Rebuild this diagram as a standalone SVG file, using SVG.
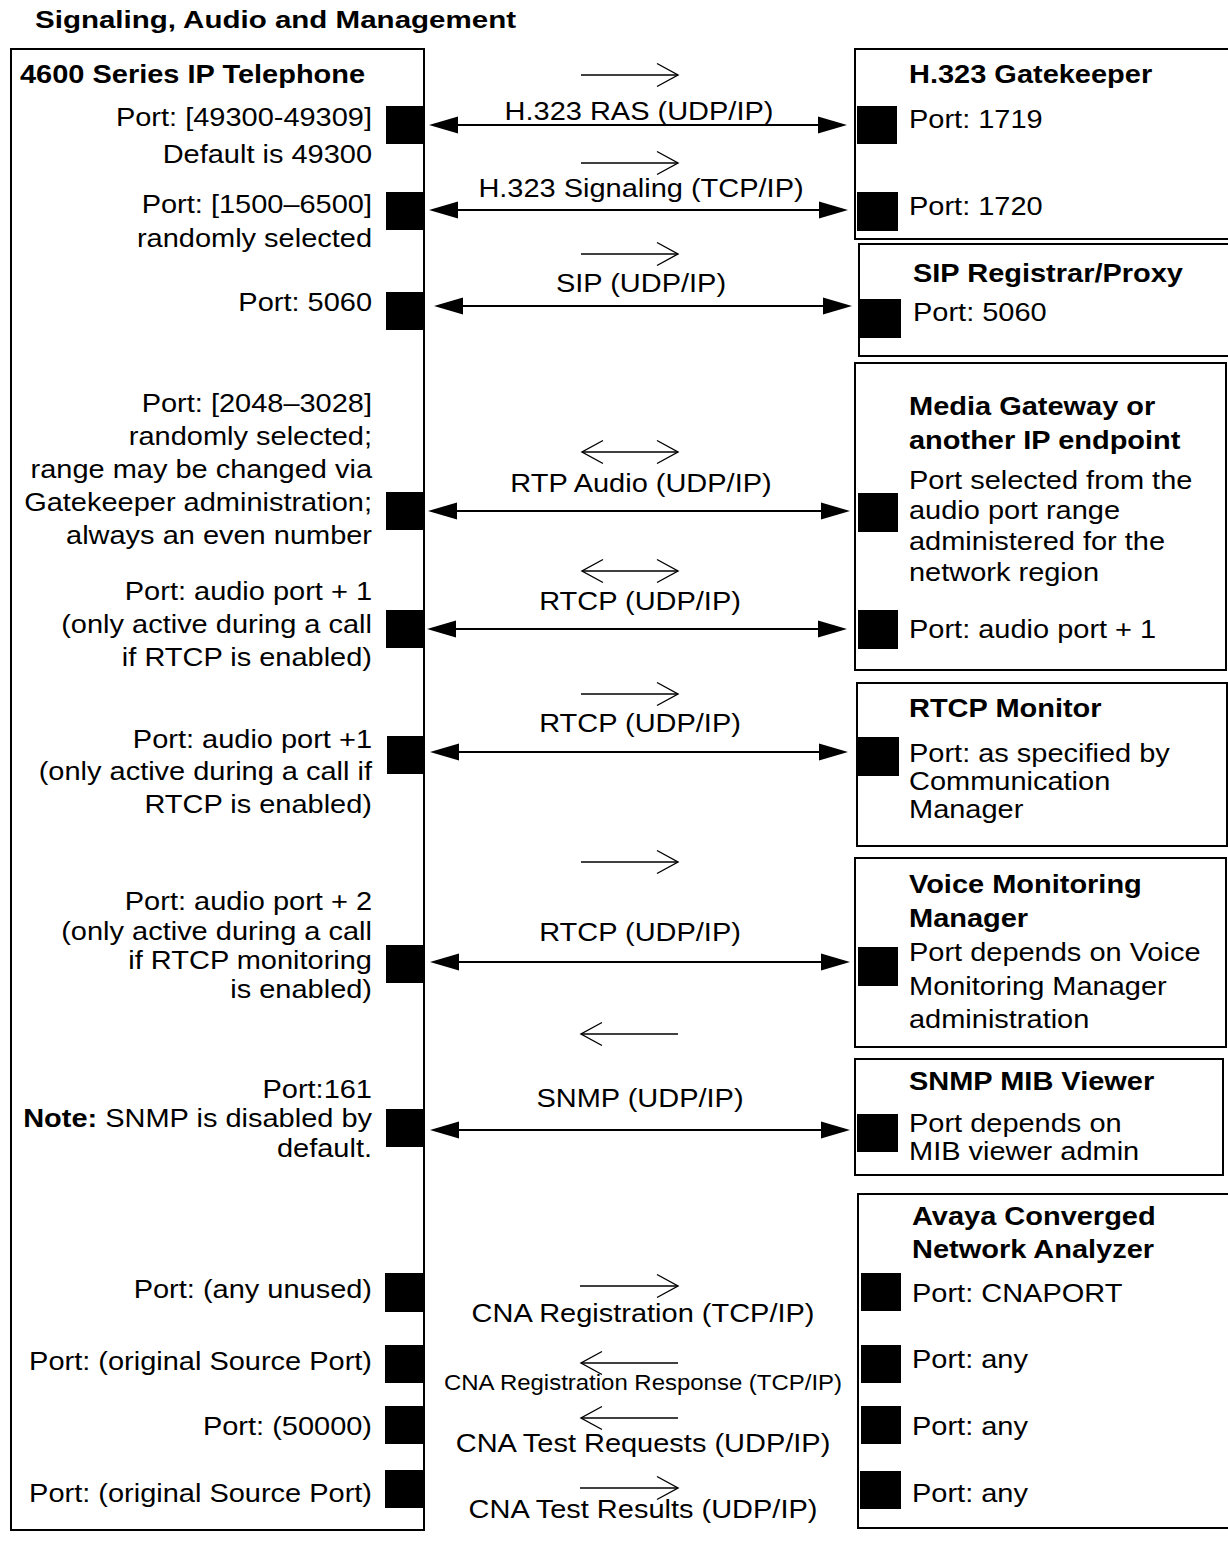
<svg xmlns="http://www.w3.org/2000/svg" width="1228" height="1547" viewBox="0 0 1228 1547">
<defs>
<marker id="solid" markerUnits="userSpaceOnUse" markerWidth="30" markerHeight="18" refX="0" refY="0" orient="auto-start-reverse" overflow="visible">
<path d="M0,-8.5 L29,0 L0,8.5 z" fill="#000"/>
</marker>
<marker id="open" markerUnits="userSpaceOnUse" markerWidth="24" markerHeight="24" refX="0" refY="0" orient="auto-start-reverse" overflow="visible">
<path d="M-21,-11.5 L0,0 L-21,11.5" fill="none" stroke="#000" stroke-width="1.4"/>
</marker>
</defs>
<style>
text{font-family:"Liberation Sans",Arial,Helvetica,sans-serif;font-size:26px;fill:#000}
.b{font-weight:bold;font-size:26px}
.l{text-anchor:end}
.c{text-anchor:middle}
.box{fill:none;stroke:#000;stroke-width:2}
.sq{fill:#000}
.main{stroke:#000;stroke-width:2;fill:none;marker-start:url(#solid);marker-end:url(#solid)}
.dir{stroke:#000;stroke-width:1.4;fill:none}
</style>
<rect width="1228" height="1547" fill="#fff"/>
<text class="b" x="35" y="28" style="font-size:24px" textLength="481" lengthAdjust="spacingAndGlyphs">Signaling, Audio and Management</text>

<g id="phone">
<rect class="box" x="11" y="49" width="413" height="1481"/>
<rect class="sq" x="386" y="106" width="38" height="38"/>
<rect class="sq" x="386" y="192" width="38" height="38"/>
<rect class="sq" x="386" y="292" width="38" height="38"/>
<rect class="sq" x="386" y="492" width="38" height="38"/>
<rect class="sq" x="386" y="610" width="38" height="38"/>
<rect class="sq" x="387" y="736" width="38" height="38"/>
<rect class="sq" x="386" y="945" width="38" height="38"/>
<rect class="sq" x="386" y="1109" width="38" height="38"/>
<rect class="sq" x="385" y="1273" width="39" height="39"/>
<rect class="sq" x="385" y="1345" width="39" height="38"/>
<rect class="sq" x="385" y="1406" width="39" height="38"/>
<rect class="sq" x="385" y="1470" width="39" height="38"/>
<g transform="translate(20 0) scale(1.115 1)">
<text class="b" x="0" y="83">4600 Series IP Telephone</text>
</g>
<g transform="translate(372 0) scale(1.115 1)">
<text class="l" x="0" y="126">Port: [49300-49309]</text>
<text class="l" x="0" y="163">Default is 49300</text>
<text class="l" x="0" y="213">Port: [1500–6500]</text>
<text class="l" x="0" y="247">randomly selected</text>
<text class="l" x="0" y="311">Port: 5060</text>
<text class="l" x="0" y="412">Port: [2048–3028]</text>
<text class="l" x="0" y="445">randomly selected;</text>
<text class="l" x="0" y="478">range may be changed via</text>
<text class="l" x="0" y="511">Gatekeeper administration;</text>
<text class="l" x="0" y="544">always an even number</text>
<text class="l" x="0" y="600">Port: audio port + 1</text>
<text class="l" x="0" y="633">(only active during a call</text>
<text class="l" x="0" y="666">if RTCP is enabled)</text>
<text class="l" x="0" y="748">Port: audio port +1</text>
<text class="l" x="0" y="780">(only active during a call if</text>
<text class="l" x="0" y="813">RTCP is enabled)</text>
<text class="l" x="0" y="910">Port: audio port + 2</text>
<text class="l" x="0" y="940">(only active during a call</text>
<text class="l" x="0" y="969">if RTCP monitoring</text>
<text class="l" x="0" y="998">is enabled)</text>
<text class="l" x="0" y="1098">Port:161</text>
<text class="l" x="0" y="1127"><tspan font-weight="bold">Note:</tspan> SNMP is disabled by</text>
<text class="l" x="0" y="1157">default.</text>
<text class="l" x="0" y="1298">Port: (any unused)</text>
<text class="l" x="0" y="1370">Port: (original Source Port)</text>
<text class="l" x="0" y="1435">Port: (50000)</text>
<text class="l" x="0" y="1502">Port: (original Source Port)</text>
</g>
</g>

<g id="gatekeeper">
<rect class="box" x="855" y="49" width="400" height="190"/>
<rect class="sq" x="857" y="106" width="40" height="38"/>
<rect class="sq" x="857" y="192" width="41" height="39"/>
<g transform="translate(909 0) scale(1.115 1)">
<text class="b" x="0" y="83">H.323 Gatekeeper</text>
<text x="0" y="128">Port: 1719</text>
<text x="0" y="215">Port: 1720</text>
</g>
</g>

<g id="sip">
<rect class="box" x="859" y="244" width="400" height="112"/>
<rect class="sq" x="859" y="299" width="42" height="39"/>
<g transform="translate(913 0) scale(1.115 1)">
<text class="b" x="0" y="282">SIP Registrar/Proxy</text>
<text x="0" y="321">Port: 5060</text>
</g>
</g>

<g id="media">
<rect class="box" x="855" y="363" width="371" height="307"/>
<rect class="sq" x="858" y="493" width="40" height="39"/>
<rect class="sq" x="858" y="610" width="40" height="39"/>
<g transform="translate(909 0) scale(1.115 1)">
<text class="b" x="0" y="415">Media Gateway or</text>
<text class="b" x="0" y="449">another IP endpoint</text>
<text x="0" y="489">Port selected from the</text>
<text x="0" y="519">audio port range</text>
<text x="0" y="550">administered for the</text>
<text x="0" y="581">network region</text>
<text x="0" y="638">Port: audio port + 1</text>
</g>
</g>

<g id="rtcpmon">
<rect class="box" x="857" y="683" width="370" height="163"/>
<rect class="sq" x="858" y="737" width="41" height="39"/>
<g transform="translate(909 0) scale(1.115 1)">
<text class="b" x="0" y="717">RTCP Monitor</text>
<text x="0" y="762">Port: as specified by</text>
<text x="0" y="790">Communication</text>
<text x="0" y="818">Manager</text>
</g>
</g>

<g id="vmm">
<rect class="box" x="855" y="858" width="371" height="189"/>
<rect class="sq" x="858" y="947" width="40" height="39"/>
<g transform="translate(909 0) scale(1.115 1)">
<text class="b" x="0" y="893">Voice Monitoring</text>
<text class="b" x="0" y="927">Manager</text>
<text x="0" y="961">Port depends on Voice</text>
<text x="0" y="995">Monitoring Manager</text>
<text x="0" y="1028">administration</text>
</g>
</g>

<g id="snmp">
<rect class="box" x="855" y="1059" width="368" height="116"/>
<rect class="sq" x="857" y="1114" width="41" height="38"/>
<g transform="translate(909 0) scale(1.115 1)">
<text class="b" x="0" y="1090">SNMP MIB Viewer</text>
<text x="0" y="1132">Port depends on</text>
<text x="0" y="1160">MIB viewer admin</text>
</g>
</g>

<g id="cna">
<rect class="box" x="858" y="1194" width="400" height="334"/>
<rect class="sq" x="861" y="1273" width="40" height="38"/>
<rect class="sq" x="861" y="1345" width="40" height="38"/>
<rect class="sq" x="861" y="1406" width="40" height="38"/>
<rect class="sq" x="860" y="1471" width="41" height="38"/>
<g transform="translate(912 0) scale(1.115 1)">
<text class="b" x="0" y="1225">Avaya Converged</text>
<text class="b" x="0" y="1258">Network Analyzer</text>
<text x="0" y="1302">Port: CNAPORT</text>
<text x="0" y="1368">Port: any</text>
<text x="0" y="1435">Port: any</text>
<text x="0" y="1502">Port: any</text>
</g>
</g>

<g id="connectors">
<line class="main" x1="458" y1="125" x2="818" y2="125"/>
<line class="main" x1="458" y1="210" x2="819" y2="210"/>
<line class="main" x1="463" y1="306" x2="823" y2="306"/>
<line class="main" x1="457" y1="511" x2="821" y2="511"/>
<line class="main" x1="456" y1="629" x2="818" y2="629"/>
<line class="main" x1="459" y1="752" x2="819" y2="752"/>
<line class="main" x1="459" y1="962" x2="821" y2="962"/>
<line class="main" x1="459" y1="1130" x2="821" y2="1130"/>

<line class="dir" x1="581" y1="75" x2="678" y2="75" marker-end="url(#open)"/>
<line class="dir" x1="581" y1="163" x2="678" y2="163" marker-end="url(#open)"/>
<line class="dir" x1="581" y1="254" x2="678" y2="254" marker-end="url(#open)"/>
<line class="dir" x1="582" y1="452" x2="678" y2="452" marker-start="url(#open)" marker-end="url(#open)"/>
<line class="dir" x1="582" y1="571" x2="678" y2="571" marker-start="url(#open)" marker-end="url(#open)"/>
<line class="dir" x1="581" y1="694" x2="678" y2="694" marker-end="url(#open)"/>
<line class="dir" x1="581" y1="862" x2="678" y2="862" marker-end="url(#open)"/>
<line class="dir" x1="678" y1="1034" x2="581" y2="1034" marker-end="url(#open)"/>
<line class="dir" x1="580" y1="1286" x2="678" y2="1286" marker-end="url(#open)"/>
<line class="dir" x1="678" y1="1363" x2="581" y2="1363" marker-end="url(#open)"/>
<line class="dir" x1="678" y1="1418" x2="581" y2="1418" marker-end="url(#open)"/>
<line class="dir" x1="580" y1="1488" x2="678" y2="1488" marker-end="url(#open)"/>

<text class="c" transform="translate(639 0) scale(1.115 1)" x="0" y="120">H.323 RAS (UDP/IP)</text>
<text class="c" transform="translate(641 0) scale(1.115 1)" x="0" y="197">H.323 Signaling (TCP/IP)</text>
<text class="c" transform="translate(641 0) scale(1.115 1)" x="0" y="292">SIP (UDP/IP)</text>
<text class="c" transform="translate(641 0) scale(1.115 1)" x="0" y="492">RTP Audio (UDP/IP)</text>
<text class="c" transform="translate(640 0) scale(1.115 1)" x="0" y="610">RTCP (UDP/IP)</text>
<text class="c" transform="translate(640 0) scale(1.115 1)" x="0" y="732">RTCP (UDP/IP)</text>
<text class="c" transform="translate(640 0) scale(1.115 1)" x="0" y="941">RTCP (UDP/IP)</text>
<text class="c" transform="translate(640 0) scale(1.115 1)" x="0" y="1107">SNMP (UDP/IP)</text>
<text class="c" transform="translate(643 0) scale(1.115 1)" x="0" y="1322">CNA Registration (TCP/IP)</text>
<text class="c" transform="translate(643 0) scale(1.115 1)" x="0" y="1390" style="font-size:21.5px">CNA Registration Response (TCP/IP)</text>
<text class="c" transform="translate(643 0) scale(1.115 1)" x="0" y="1452">CNA Test Requests (UDP/IP)</text>
<text class="c" transform="translate(643 0) scale(1.115 1)" x="0" y="1518">CNA Test Results (UDP/IP)</text>
</g>
</svg>
